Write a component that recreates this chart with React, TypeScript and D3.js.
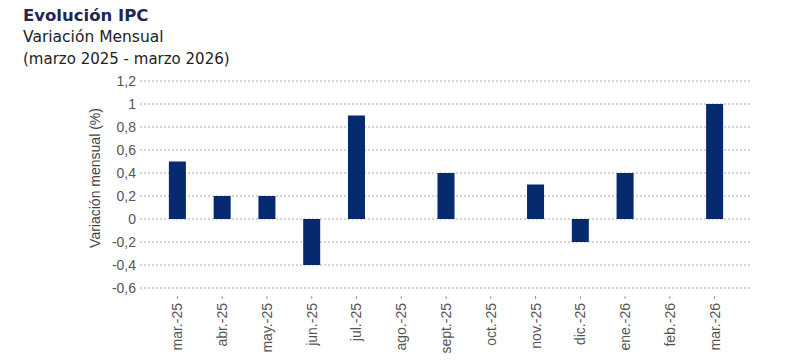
import React from "react";
import * as d3 from "d3";

const categories = ["mar.-25","abr.-25","may.-25","jun.-25","jul.-25","ago.-25","sept.-25","oct.-25","nov.-25","dic.-25","ene.-26","feb.-26","mar.-26"];
const values = [0.5,0.2,0.2,-0.4,0.9,0,0.4,0,0.3,-0.2,0.4,0,1.0];
const yTicks = [1.2,1,0.8,0.6,0.4,0.2,0,-0.2,-0.4,-0.6];
const titleLines = ["Evolución IPC","Variación Mensual","(marzo 2025 - marzo 2026)"];
const yAxisTitle = "Variación mensual (%)";

export default function App() {
  const W = 800, H = 360;
  const gridL = 140, gridR = 752;
  const x = d3.scaleBand<string>().domain(categories).range([155, 737]).paddingInner(0.62).paddingOuter(0.31);
  const y = d3.scaleLinear().domain([-0.6, 1.2]).range([288, 81]);
  const fmt = (v: number) => String(v).replace(".", ",");
  const sans = "'DejaVu Sans', sans-serif";
  const narrow = "'Liberation Sans', Arial, sans-serif";
  return (
    <svg width={W} height={H} style={{ position: "absolute", left: 0, top: 0, background: "#fff" }}>
      <text x={23} y={21} fontFamily={sans} fontSize={16.5} fontWeight="bold" fill="#1d2752">{titleLines[0]}</text>
      <text x={23} y={42} fontFamily={sans} fontSize={15.5} fill="#222">{titleLines[1]}</text>
      <text x={23} y={64} fontFamily={sans} fontSize={15} fill="#222">{titleLines[2]}</text>
      {yTicks.map((t) => (
        <g key={t}>
          <line x1={gridL} x2={gridR} y1={y(t)} y2={y(t)} stroke="#aaa" strokeWidth={1} strokeDasharray="2,2" />
          <text x={136} y={y(t)} dy="0.35em" textAnchor="end" fontFamily={narrow} fontSize={14} fill="#555">{fmt(t)}</text>
        </g>
      ))}
      <text transform={`translate(100,${178}) rotate(-90)`} textAnchor="middle" fontFamily={narrow} fontSize={14} fill="#444">{yAxisTitle}</text>
      {categories.map((c, i) => {
        const v = values[i];
        const cx = (x(c) as number) + x.bandwidth() / 2;
        return (
          <g key={c}>
            {v !== 0 && (
              <rect x={x(c)} width={x.bandwidth()} y={y(Math.max(0, v))} height={Math.abs(y(v) - y(0))} fill="#062a6e" />
            )}
            <line x1={cx} x2={cx} y1={296} y2={299} stroke="#999" />
            <text transform={`translate(${cx + 5},${303}) rotate(-90)`} textAnchor="end" fontFamily={narrow} fontSize={14} fill="#555">{c}</text>
          </g>
        );
      })}
    </svg>
  );
}
